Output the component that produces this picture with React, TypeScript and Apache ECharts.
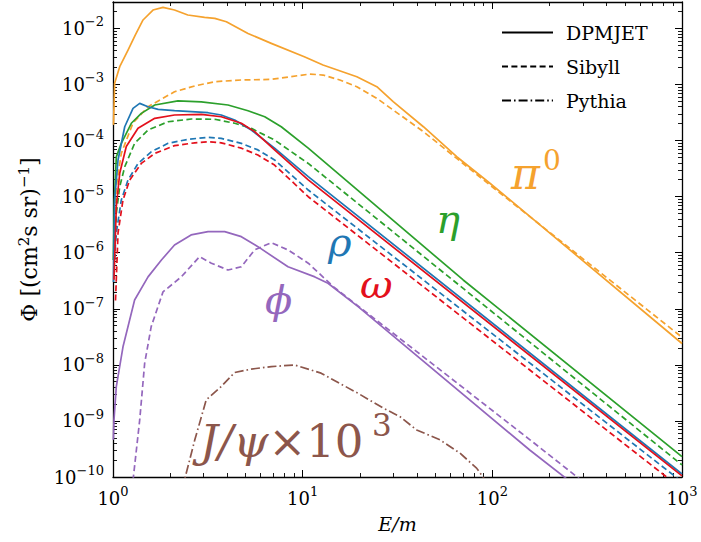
import React, { useEffect, useRef } from "react";
import * as echarts from "echarts";

const SERIF = "DejaVu Serif";

// ---- axis range ----
const X_MIN = 1;
const X_MAX = 1000;
const Y_MIN = 1e-10;
const Y_MAX = 0.0295;

// ---- data (E/m, Phi) ----
const pi0DpmjetE = [1.006, 1.02, 1.085, 1.2, 1.31, 1.44, 1.625, 1.835, 2.11, 2.48, 3.04, 3.44, 3.96, 5.15, 6.83, 10.2, 12.8, 19.3, 24.6, 30.0, 43.3, 64.9, 97.1, 120.8, 1000];
const pi0DpmjetPhi = [1.9e-4, 1.05e-3, 2.07e-3, 4.1e-3, 7.6e-3, 1.41e-2, 2.12e-2, 2.37e-2, 2.12e-2, 1.73e-2, 1.57e-2, 1.51e-2, 1.31e-2, 8.1e-3, 5.4e-3, 3.12e-3, 2.22e-3, 1.37e-3, 9.1e-4, 4.92e-4, 1.76e-4, 5.14e-5, 1.73e-5, 9.4e-6, 2.4e-8];

const pi0SibyllE = [1.012, 1.041, 1.106, 1.275, 1.53, 2.11, 2.7, 3.44, 4.75, 6.82, 8.57, 10.9, 12.8, 15.7, 19.3, 24.6, 30.0, 43.3, 64.9, 97.1, 1000];
const pi0SibyllPhi = [1.1e-6, 1.5e-5, 5.9e-5, 2.05e-4, 4.0e-4, 7.4e-4, 9.4e-4, 1.12e-3, 1.2e-3, 1.23e-3, 1.37e-3, 1.53e-3, 1.47e-3, 1.2e-3, 9.1e-4, 5.65e-4, 3.5e-4, 1.44e-4, 4.8e-5, 1.61e-5, 3.1e-8];

const etaDpmjetE = [1.004, 1.018, 1.041, 1.106, 1.249, 1.41, 1.66, 2.2, 2.92, 4.04, 5.15, 6.31, 7.71, 10.7, 70.2, 1000];
const etaDpmjetPhi = [7.4e-7, 8.7e-6, 5.1e-5, 8.9e-5, 2.03e-4, 3.05e-4, 4.3e-4, 5.1e-4, 4.9e-4, 4.3e-4, 3.4e-4, 2.65e-4, 1.76e-4, 7.3e-5, 3.26e-7, 2.31e-10];

const etaSibyllE = [1.018, 1.041, 1.085, 1.153, 1.3, 1.53, 1.95, 2.59, 3.44, 4.38, 5.36, 7.11, 10.7, 1000];
const etaSibyllPhi = [7.4e-7, 5.0e-6, 1.5e-5, 3.4e-5, 8.9e-5, 1.54e-4, 2.16e-4, 2.42e-4, 2.39e-4, 2.03e-4, 1.65e-4, 1.02e-4, 3.9e-5, 1.64e-10];

const rhoDpmjetE = [1.006, 1.02, 1.063, 1.153, 1.275, 1.383, 1.53, 1.73, 2.11, 3.17, 3.72, 4.38, 5.36, 7.11, 10.7, 1000];
const rhoDpmjetPhi = [3.0e-7, 8.7e-6, 4.5e-5, 1.76e-4, 3.75e-4, 4.6e-4, 4.0e-4, 3.6e-4, 3.4e-4, 3.13e-4, 2.85e-4, 2.32e-4, 1.54e-4, 7.3e-5, 2.27e-5, 1.13e-10];

const rhoSibyllE = [1.018, 1.041, 1.106, 1.2, 1.355, 1.59, 1.95, 2.48, 3.17, 3.72, 4.75, 5.81, 7.11, 10.7, 1000];
const rhoSibyllPhi = [7.4e-7, 2.25e-6, 8.7e-6, 1.98e-5, 3.9e-5, 6.3e-5, 8.9e-5, 1.05e-4, 1.14e-4, 1.09e-4, 8.9e-5, 6.8e-5, 4.5e-5, 1.31e-5, 8.2e-11];

const omegaDpmjetE = [1.012, 1.041, 1.085, 1.175, 1.355, 1.66, 2.11, 2.92, 3.72, 4.75, 5.58, 7.11, 10.7, 1000];
const omegaDpmjetPhi = [3.3e-7, 6.6e-6, 2.6e-5, 7.8e-5, 1.65e-4, 2.49e-4, 2.85e-4, 2.93e-4, 2.65e-4, 2.03e-4, 1.44e-4, 6.8e-5, 1.98e-5, 1.05e-10];

const omegaSibyllE = [1.031, 1.063, 1.129, 1.225, 1.41, 1.66, 2.11, 2.7, 3.17, 3.72, 4.75, 5.81, 7.11, 10.7, 1000];
const omegaSibyllPhi = [1.4e-7, 2.25e-6, 8.7e-6, 1.98e-5, 3.9e-5, 5.9e-5, 8.1e-5, 9.1e-5, 9.5e-5, 9.1e-5, 7.3e-5, 5.5e-5, 3.65e-5, 9.95e-6, 6.1e-11];

const phiDpmjetE = [1.004, 1.012, 1.041, 1.129, 1.3, 1.53, 1.8, 2.11, 2.58, 3.17, 3.88, 4.75, 5.81, 8.37, 11.6, 13.6, 19.6, 158, 369];
const phiDpmjetPhi = [4.6e-10, 1.04e-9, 4.1e-9, 2.1e-8, 1.43e-7, 3.7e-7, 7.4e-7, 1.37e-6, 2.07e-6, 2.37e-6, 2.37e-6, 1.93e-6, 1.28e-6, 5.6e-7, 3.7e-7, 2.85e-7, 1.09e-7, 3.0e-10, 3.2e-11];

const phiSibyllE = [1.259, 1.383, 1.469, 1.59, 1.835, 2.29, 2.86, 3.3, 4.04, 4.75, 5.58, 6.83, 8.37, 10.7, 14.5, 158, 369];
const phiSibyllPhi = [5.9e-11, 1.04e-9, 1.07e-8, 4.8e-8, 2.0e-7, 3.7e-7, 8.5e-7, 6.5e-7, 4.9e-7, 5.6e-7, 1.12e-6, 1.51e-6, 1.12e-6, 6.5e-7, 2.48e-7, 4.6e-10, 4.8e-11];

const jpsiPythiaE = [2.31, 2.7, 3.1, 3.72, 4.38, 5.36, 6.83, 9.07, 12.5, 19.6, 26.6, 32.6, 39.9, 52.9, 67.5, 82.6, 91.4];
const jpsiPythiaPhi = [5.9e-11, 4.6e-10, 2.37e-9, 4.1e-9, 7.3e-9, 8.4e-9, 9.3e-9, 9.95e-9, 7.1e-9, 3.1e-9, 1.69e-9, 1.19e-9, 6.9e-10, 4.6e-10, 2.66e-10, 1.44e-10, 8.9e-11];

// ---- legend / generators ----
const generators = ["DPMJET", "Sibyll", "Pythia"];

// ---- tick exponents ----
const xMajorExp = [0, 1, 2, 3];
const yMajorExp = [-10, -9, -8, -7, -6, -5, -4, -3, -2];

const C_ORANGE = "#f5a22e";
const C_GREEN = "#2ca02c";
const C_BLUE = "#1f77b4";
const C_RED = "#e3101c";
const C_PURPLE = "#9467bd";
const C_BROWN = "#8c564b";

const DASH = [6, 3.4];
const DASHDOT = [9, 3, 1.6, 3];

function minorTicks(lo: number, hi: number, max: number) {
  const out: number[] = [];
  for (let d = lo; d < hi; d++) {
    for (let k = 2; k <= 9; k++) {
      const v = d + Math.log10(k);
      if (v <= max) out.push(v);
    }
  }
  return out;
}

function buildOption() {
  const lxMin = Math.log10(X_MIN);
  const lxMax = Math.log10(X_MAX);
  const lyMin = Math.log10(Y_MIN);
  const lyMax = Math.log10(Y_MAX);
  const xMinor = minorTicks(lxMin, lxMax, lxMax);
  const yMinor = minorTicks(lyMin, Math.ceil(lyMax), lyMax);

  const rich = {
    b: { fontFamily: SERIF, fontSize: 18, color: "#000", lineHeight: 26 },
    s: { fontFamily: SERIF, fontSize: 13, color: "#000", lineHeight: 14, verticalAlign: "top" },
  };
  const fmt = (v: number) => {
    const n = Math.round(v);
    return "{b|10}{s|" + (n < 0 ? "\u2212" + Math.abs(n) : String(n)) + "}";
  };
  const axisLineStyle = { color: "#000", width: 1.3 };

  const valueAxis = (extra: any) => ({
    type: "value",
    splitLine: { show: false },
    axisLine: { show: false, onZero: false, lineStyle: axisLineStyle },
    axisLabel: { show: false },
    ...extra,
  });

  const xAxes = [
    { type: "log", logBase: 10, min: X_MIN, max: X_MAX, show: false },
    valueAxis({
      position: "bottom", min: lxMin, max: lxMax,
      axisLine: { show: true, onZero: false, lineStyle: axisLineStyle },
      axisTick: { show: true, inside: true, length: 7, customValues: xMajorExp, lineStyle: { color: "#000", width: 1 } },
      axisLabel: { show: true, customValues: xMajorExp, formatter: fmt, rich, margin: 8, fontFamily: SERIF },
      name: "E/m", nameLocation: "middle", nameGap: 37,
      nameTextStyle: { fontFamily: SERIF, fontStyle: "italic", fontSize: 19, color: "#000" },
    }),
    valueAxis({
      position: "bottom", min: lxMin, max: lxMax,
      axisTick: { show: true, inside: true, length: 4, customValues: xMinor, lineStyle: { color: "#000", width: 0.9 } },
    }),
    valueAxis({
      position: "top", min: lxMin, max: lxMax,
      axisLine: { show: true, onZero: false, lineStyle: axisLineStyle },
      axisTick: { show: true, inside: true, length: 7, customValues: xMajorExp, lineStyle: { color: "#000", width: 1 } },
    }),
    valueAxis({
      position: "top", min: lxMin, max: lxMax,
      axisTick: { show: true, inside: true, length: 4, customValues: xMinor, lineStyle: { color: "#000", width: 0.9 } },
    }),
  ];

  const yAxes = [
    { type: "log", logBase: 10, min: Y_MIN, max: Y_MAX, show: false },
    valueAxis({
      position: "left", min: lyMin, max: lyMax,
      axisLine: { show: true, onZero: false, lineStyle: axisLineStyle },
      axisTick: { show: true, inside: true, length: 7, customValues: yMajorExp, lineStyle: { color: "#000", width: 1 } },
      axisLabel: { show: true, customValues: yMajorExp, formatter: fmt, rich, margin: 9, fontFamily: SERIF },
      name: "{t|\u03a6 [(cm}{s|2}{t|s sr)}{s|\u22121}{t|]}",
      nameLocation: "middle", nameGap: 71,
      nameTextStyle: {
        color: "#000",
        fontFamily: SERIF,
        rich: {
          t: { fontFamily: SERIF, fontSize: 22, color: "#000", lineHeight: 26 },
          s: { fontFamily: SERIF, fontSize: 15, color: "#000", lineHeight: 15, verticalAlign: "top" },
        },
      },
    }),
    valueAxis({
      position: "left", min: lyMin, max: lyMax,
      axisTick: { show: true, inside: true, length: 4, customValues: yMinor, lineStyle: { color: "#000", width: 0.9 } },
    }),
    valueAxis({
      position: "right", min: lyMin, max: lyMax,
      axisLine: { show: true, onZero: false, lineStyle: axisLineStyle },
      axisTick: { show: true, inside: true, length: 7, customValues: yMajorExp, lineStyle: { color: "#000", width: 1 } },
    }),
    valueAxis({
      position: "right", min: lyMin, max: lyMax,
      axisTick: { show: true, inside: true, length: 4, customValues: yMinor, lineStyle: { color: "#000", width: 0.9 } },
    }),
  ];

  const curve = (name: string, E: number[], P: number[], color: string, type: any) => ({
    type: "line",
    name,
    xAxisIndex: 0,
    yAxisIndex: 0,
    data: E.map((e, i) => [e, P[i]]),
    symbol: "none",
    smooth: false,
    clip: true,
    silent: true,
    lineStyle: { color, width: 1.7, type, join: "round" },
    itemStyle: { color },
  });

  const series = [
    curve("pi0 DPMJET", pi0DpmjetE, pi0DpmjetPhi, C_ORANGE, "solid"),
    curve("pi0 Sibyll", pi0SibyllE, pi0SibyllPhi, C_ORANGE, DASH),
    curve("eta DPMJET", etaDpmjetE, etaDpmjetPhi, C_GREEN, "solid"),
    curve("eta Sibyll", etaSibyllE, etaSibyllPhi, C_GREEN, DASH),
    curve("rho DPMJET", rhoDpmjetE, rhoDpmjetPhi, C_BLUE, "solid"),
    curve("rho Sibyll", rhoSibyllE, rhoSibyllPhi, C_BLUE, DASH),
    curve("omega DPMJET", omegaDpmjetE, omegaDpmjetPhi, C_RED, "solid"),
    curve("omega Sibyll", omegaSibyllE, omegaSibyllPhi, C_RED, DASH),
    curve("phi DPMJET", phiDpmjetE, phiDpmjetPhi, C_PURPLE, "solid"),
    curve("phi Sibyll", phiSibyllE, phiSibyllPhi, C_PURPLE, DASH),
    curve("J/psi Pythia", jpsiPythiaE, jpsiPythiaPhi, C_BROWN, DASHDOT),
    curve(generators[0], [], [], "#000", "solid"),
    curve(generators[1], [], [], "#000", DASH),
    curve(generators[2], [], [], "#000", DASHDOT),
  ];

  const label = (text: string, x: number, y: number, color: string, fontSize: number, italic: boolean) => ({
    type: "text",
    x,
    y,
    silent: true,
    style: {
      text,
      fill: color,
      fontFamily: SERIF,
      fontSize,
      fontStyle: italic ? "italic" : "normal",
      textAlign: "left",
      textVerticalAlign: "middle",
    },
  });

  const graphic = [
    label("\u03c0", 511, 173, C_ORANGE, 44, true),
    label("0", 543, 160, C_ORANGE, 28, false),
    label("\u03b7", 436, 219, C_GREEN, 40, true),
    label("\u03c1", 328, 242, C_BLUE, 40, true),
    label("\u03c9", 360, 284, C_RED, 40, true),
    label("\u03d5", 265, 300, C_PURPLE, 40, true),
    {
      type: "text",
      x: 200,
      y: 441,
      silent: true,
      style: {
        text: "{i|J/\u03c8}{u|\u00d710}",
        textAlign: "left",
        textVerticalAlign: "middle",
        rich: {
          i: { fontFamily: SERIF, fontSize: 45, fontStyle: "italic", fill: C_BROWN, color: C_BROWN },
          u: { fontFamily: SERIF, fontSize: 45, fill: C_BROWN, color: C_BROWN },
        },
      },
    },
    label("3", 372, 425, C_BROWN, 31, false),
  ];

  return {
    animation: false,
    backgroundColor: "#fff",
    grid: { left: 113, right: 19, top: 2, bottom: 65, containLabel: false },
    xAxis: xAxes,
    yAxis: yAxes,
    legend: {
      data: generators,
      orient: "vertical",
      left: 496,
      top: 17,
      itemWidth: 51,
      itemHeight: 14,
      itemGap: 13,
      selectedMode: false,
      itemStyle: { opacity: 0 },
      textStyle: { fontFamily: SERIF, fontSize: 19, color: "#000", lineHeight: 21, padding: [0, 0, 0, 8] },
    },
    series,
    graphic,
  };
}

export default function App() {
  const ref = useRef<HTMLDivElement>(null);
  useEffect(() => {
    const chart = echarts.init(ref.current as HTMLDivElement, null, { renderer: "svg" });
    chart.setOption(buildOption() as any);
    return () => chart.dispose();
  }, []);
  return (
    <div
      ref={ref}
      style={{ position: "absolute", left: 0, top: 0, width: 701, height: 542, background: "#fff" }}
    />
  );
}
